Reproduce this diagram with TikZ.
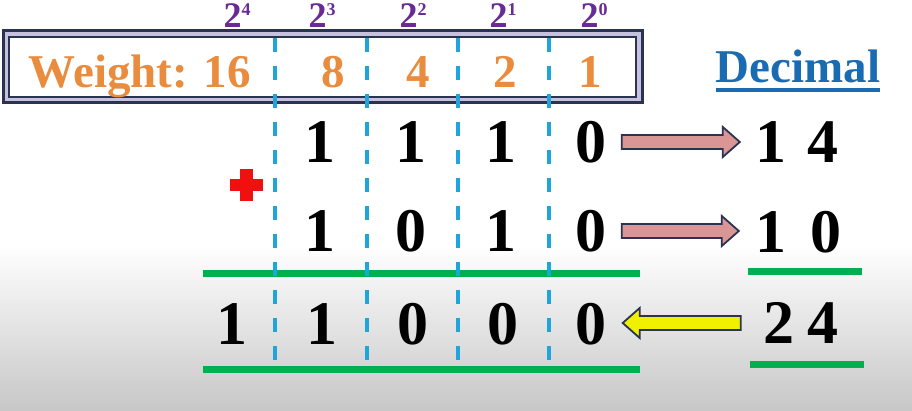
\documentclass[tikz,border=0pt]{standalone}
\usepackage{fontspec}
\setmainfont{Liberation Serif}
\usepackage{tikz}
\usetikzlibrary{calc}

\definecolor{wgtorange}{RGB}{233,140,62}
\definecolor{powpurple}{RGB}{104,42,150}
\definecolor{gridcyan}{RGB}{30,166,220}
\definecolor{boxnavy}{RGB}{42,52,82}
\definecolor{boxlilac}{RGB}{198,194,222}
\definecolor{sumgreen}{RGB}{0,176,80}
\definecolor{arrowpink}{RGB}{218,150,148}
\definecolor{arrowyellow}{RGB}{240,240,0}
\definecolor{decblue}{RGB}{26,108,178}
\definecolor{plusred}{RGB}{240,16,16}

\newcommand{\twopow}[1]{2\raisebox{12pt}{\fontsize{18}{18}\selectfont #1}}
\newcommand{\blockarrow}[3]{%
    \draw[fatarrow,#1] let \p1=(#2), \p2=(#3), \p3=($(\p2)!17pt!(\p1)$) in
        (\x1,\y1+7pt) -- (\x3,\y1+7pt) -- (\x3,\y1+15pt) -- (\x2,\y1)
        -- (\x3,\y1-15pt) -- (\x3,\y1-7pt) -- (\x1,\y1-7pt) -- cycle;}

\begin{document}
\begin{tikzpicture}[x=1pt, y=-1pt,
    bit/.style={inner sep=0pt, font=\fontsize{62}{62}\selectfont\bfseries},
    wgt/.style={inner sep=0pt, anchor=base, text=wgtorange, font=\fontsize{47}{47}\selectfont\bfseries},
    pow/.style={inner sep=0pt, anchor=base, text=powpurple, font=\fontsize{36}{36}\selectfont\bfseries},
    grid/.style={gridcyan, line width=3.5pt, dash pattern=on 14pt off 14pt},
    bar/.style={sumgreen, line width=7pt},
    fatarrow/.style={draw=boxnavy, line width=1.8pt, line join=miter}]
    \useasboundingbox (0,0) rectangle (912,411);
    \fill[white] (0,0) rectangle (912,411);
    \shade[top color=white, bottom color=black!22] (0,245) rectangle (912,411);

    % weight box
    \draw[boxnavy, line width=3pt, fill=boxlilac] (3,31) rectangle (642,103);
    \draw[boxnavy, line width=2.5pt, fill=white] (9,37) rectangle (636,97);

    \node[pow] (p4) at (237,28) {\twopow{4}};
    \node[pow] (p3) at (322,28) {\twopow{3}};
    \node[pow] (p2) at (413,28) {\twopow{2}};
    \node[pow] (p1) at (503,28) {\twopow{1}};
    \node[pow] (p0) at (594,28) {\twopow{0}};

    \node[wgt, anchor=base east] (w16) at (251,88) {Weight: 16};
    \node[wgt] (w8) at (333,88) {8};
    \node[wgt] (w4) at (418,88) {4};
    \node[wgt] (w2) at (505,88) {2};
    \node[wgt] (w1) at (590,88) {1};

    % sum lines
    \draw[bar] (203,274) -- (640,274);
    \draw[bar] (203,369) -- (640,369);
    \draw[bar] (748,272) -- (862,272);
    \draw[bar] (750,364) -- (864,364);

    \foreach \x in {275,367,458,549}
        \draw[grid] (\x,38) -- (\x,372);

    \fill[plusred] (240,169) rectangle (253,201);
    \fill[plusred] (230,179) rectangle (263,191);

    \node[bit] (a1) at (320,142) {1};
    \node[bit] (a2) at (411,142) {1};
    \node[bit] (a3) at (501,142) {1};
    \node[bit] (a4) at (591,142) {0};

    \node[bit] (b1) at (320,231) {1};
    \node[bit] (b2) at (411,231) {0};
    \node[bit] (b3) at (501,231) {1};
    \node[bit] (b4) at (591,231) {0};

    \node[bit] (s0) at (232,324) {1};
    \node[bit] (s1) at (322,324) {1};
    \node[bit] (s2) at (413,324) {0};
    \node[bit] (s3) at (503,324) {0};
    \node[bit] (s4) at (591,324) {0};

    % decimal side
    \node[inner sep=0pt, anchor=base, text=decblue, font=\fontsize{47}{47}\selectfont\bfseries] (dec) at (798,83) {Decimal};
    \draw[decblue, line width=4pt] ([yshift=-7pt]dec.base west) -- ([yshift=-7pt]dec.base east);

    \node[bit] (d14) at (797,142) {1\kern22pt 4};
    \node[bit] (d10) at (798,232) {1\kern24pt 0};
    \node[bit] (d24) at (801,323) {2\kern14pt 4};

    \blockarrow{fill=arrowpink}{[xshift=15pt]a4.east}{[xshift=-15pt]d14.west}
    \blockarrow{fill=arrowpink}{[xshift=15pt]b4.east}{[xshift=-16pt]d10.west}
    \blockarrow{fill=arrowyellow}{[xshift=-22pt]d24.west}{[xshift=16pt]s4.east}
\end{tikzpicture}
\end{document}
